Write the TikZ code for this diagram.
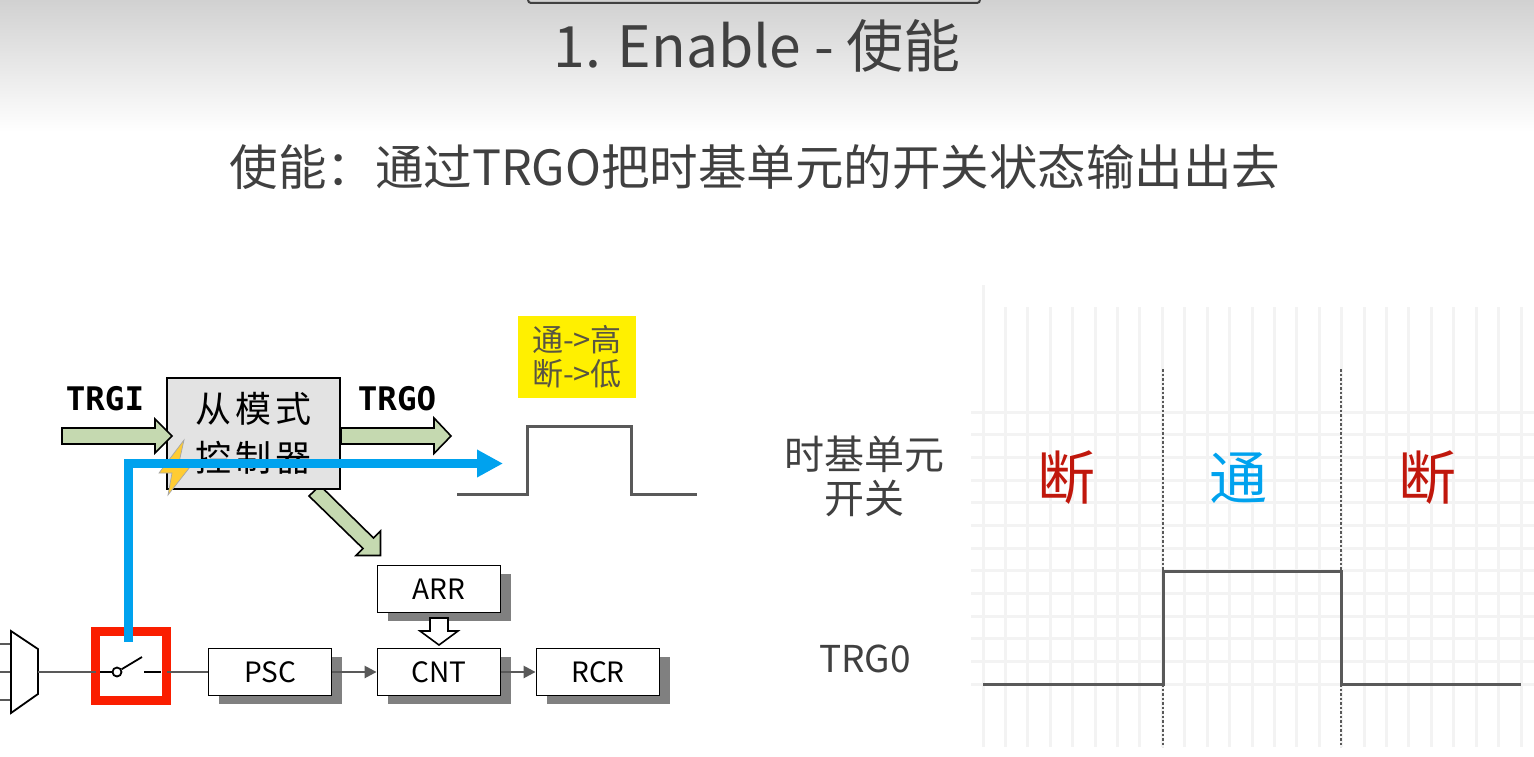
\documentclass[tikz,border=0pt]{standalone}
\usepackage{fontspec}
\usepackage{tikz}
\usetikzlibrary{positioning}
\usetikzlibrary{shapes,arrows,arrows.meta,shadows}
\setmainfont{Noto Sans CJK SC}
\newfontfamily\monobold{DejaVu Sans Mono}
\newcommand{\fsize}[1]{\fontsize{#1}{#1}\selectfont}
\definecolor{txtgray}{HTML}{404040}
\definecolor{wiregray}{HTML}{595959}
\definecolor{gridgray}{HTML}{F3F3F3}
\definecolor{boxgreen}{HTML}{C5D9B0}
\definecolor{flowblue}{HTML}{00A2EE}
\definecolor{offred}{HTML}{C0170C}
\definecolor{switchred}{HTML}{FA1E00}
\definecolor{noteyellow}{HTML}{FFF000}
\definecolor{boltyellow}{HTML}{FFCC33}
\begin{document}
\begin{tikzpicture}[
      x=1pt, y=-1pt,
      regbox/.style={draw=black, line width=1.8pt, fill=white, minimum width=123pt, minimum height=47pt, inner sep=0pt,
        general shadow={fill=gray, shadow xshift=10pt, shadow yshift=-8pt}, font=\fsize{28}},
      greenarrow/.style={draw=black, fill=boxgreen, line width=1.6pt},
      wire/.style={draw=wiregray, line width=2.5pt},
      wirearrow/.style={wire, -{Triangle[length=12pt,width=12pt]}},
      wave/.style={draw=wiregray, line width=3pt},
      gridline/.style={draw=gridgray, line width=3pt},
      dotline/.style={draw=wiregray, line width=2.5pt, dash pattern=on 2.5pt off 2pt},
      label/.style={text=txtgray, inner sep=0pt},
      monolabel/.style={inner sep=0pt, font=\monobold\bfseries\fsize{32.5}}
    ]
    \useasboundingbox (0,0) rectangle (1534,757);
    \shade[top color=black!18, bottom color=white] (0,0) rectangle (1534,132);
    \draw[line width=2pt, draw=txtgray, rounded corners=3pt] (528,0) -- (528,3) -- (980,3) -- (980,0);

    \node[label, font=\fsize{57}] (title) at (757,46) {1. Enable - 使能};
    \node[label, font=\fsize{48.5}] (subtitle) at (755,167) {使能\char"FF1A 通过TRGO把时基单元的开关状态输出出去};

    % grid
    \foreach \i in {0,...,24} {
      \draw[gridline] ({983+22.42*\i},307) -- ({983+22.42*\i},747);
    }
    \draw[gridline] (983,285) -- (983,307);
    \foreach \i in {0,...,12} {
      \draw[gridline] (971,{412+22.67*\i}) -- (1534,{412+22.67*\i});
    }

    \draw[dotline] (1163,369) -- (1163,747);
    \draw[dotline] (1341,369) -- (1341,747);
    \draw[wave] (983,684) -- (1163,684) -- (1163,571) -- (1341,571) -- (1341,684) -- (1521,684);

    \node[label, font=\fsize{40}, align=center] (switchlabel) at (864,476) {时基单元\\[4pt]开关};
    \node[label, font=\fsize{37}] (trgolabel) at (865,659) {TRG0};
    \node[inner sep=0pt, text=offred, font=\fsize{58}] (offa) at (1066,478) {断};
    \node[inner sep=0pt, text=flowblue, font=\fsize{58}] (on) at (1238,478) {通};
    \node[inner sep=0pt, text=offred, font=\fsize{58}] (offb) at (1427,478) {断};

    % slave mode controller
    \draw[greenarrow] (320,485.5) -- (373.5,538) -- (380.5,531) -- (380.5,555.5) -- (356,555.5) -- (363,548.5) -- (309,496) -- cycle;
    \node[draw=black, fill=black!11, line width=1.8pt, minimum width=173pt, minimum height=111pt, inner sep=0pt,
      align=center, font=\fsize{36}] (slave) at (253.5,433.5)
      {从\hspace{4pt}模\hspace{4pt}式\\[13pt]控\hspace{4pt}制\hspace{4pt}器};
    \draw[greenarrow] (62,428) -- (155,428) -- (155,419) -- (172,436) -- (155,453) -- (155,444) -- (62,444) -- cycle;
    \draw[greenarrow] (341,428) -- (434,428) -- (434,418) -- (451,436) -- (434,453.5) -- (434,444) -- (341,444) -- cycle;
    \node[monolabel] (trgi) at (105,399) {TRGI};
    \node[monolabel] (trgo) at (397,399) {TRGO};
    \fill[fill=boltyellow, draw=black!35, line width=.7pt]
      (184,440) -- (159,473) -- (172,473) -- (168,495) -- (190,467) -- (178,467) -- cycle;

    % yellow note
    \node[fill=noteyellow, minimum width=118pt, minimum height=82pt, inner sep=0pt, align=center,
      text=black!75!yellow, font=\fsize{31}] (note) at (577,357) {通->高\\[3pt]断->低};
    \draw[wave] (457,494) -- (527,494) -- (527,426) -- (631,426) -- (631,494) -- (697,494);

    % time base
    \node[regbox] (psc) at (270,672) {PSC};
    \node[regbox] (arr) at (439,589) {ARR};
    \node[regbox] (cnt) at (439,672) {CNT};
    \node[regbox] (rcr) at (598,672) {RCR};
    \draw[wirearrow] (psc) -- (cnt);
    \draw[wirearrow] (cnt) -- (rcr);
    \draw[draw=black, fill=white, line width=1.6pt] (430,618) -- (448,618) -- (448,631) -- (458,631) -- (439,645) -- (420,631) -- (430,631) -- cycle;

    % mux and switch
    \coordinate (muxout) at (38,672);
    \coordinate (ina) at (0,644);
    \coordinate (inb) at (0,672);
    \coordinate (inc) at (0,700);
    \coordinate (muxa) at (11,644);
    \coordinate (muxb) at (11,672);
    \coordinate (muxc) at (11,700);
    \draw[wire] (ina) -- (muxa);
    \draw[wire] (inb) -- (muxb);
    \draw[wire] (inc) -- (muxc);
    \draw[draw=black, line width=1.8pt, fill=white] (11,631) -- (38,649) -- (38,694) -- (11,713) -- cycle;
    \node[draw=switchred, line width=9pt, minimum width=71pt, minimum height=69pt, inner sep=0pt, outer sep=0pt] (switch) at (131,666) {};
    \draw[wire] (muxout) -- (muxout -| switch.west);
    \draw[wire] (switch.east |- psc) -- (psc);
    \coordinate (blade) at (142,657);
    \coordinate (contact) at (144,672);
    \coordinate (lead) at (100,672);
    \coordinate (rightlead) at (161,672);
    \node[circle, draw=black, fill=white, line width=1.8pt, minimum size=9pt, inner sep=0pt] (pivot) at (117,672) {};
    \draw[line width=1.8pt] (lead) -- (pivot);
    \draw[line width=1.8pt] (pivot) -- (blade);
    \draw[line width=1.8pt] (contact) -- (rightlead);

    % flow
    \coordinate (flowstart) at (128.5,642);
    \coordinate (flowcorner) at (128.5,463.5);
    \coordinate (flowend) at (503,463.5);
    \draw[draw=flowblue, line width=9pt, -{Triangle[length=26pt,width=26pt]}] (flowstart) -- (flowcorner) -- (flowend);
\end{tikzpicture}
\end{document}
